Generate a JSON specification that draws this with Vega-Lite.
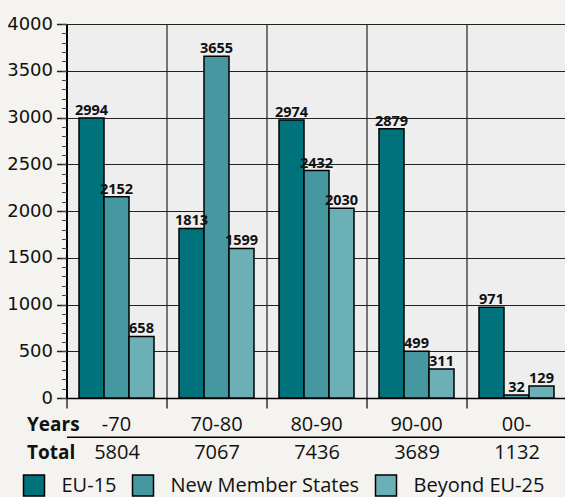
{
  "$schema": "https://vega.github.io/schema/vega-lite/v6.json",
  "width": 500,
  "height": 374,
  "autosize": {"type": "none"},
  "padding": {"left": 66.5, "top": 24, "right": 0, "bottom": 99},
  "background": "#f4f3ef",
  "config": {
    "view": {"fill": "#eeeeee", "stroke": null}
  },
  "data": {
    "values": [
      {"period": "-70", "region": "EU-15", "value": 2994, "total": "5804"},
      {"period": "-70", "region": "New Member States", "value": 2152, "total": "5804"},
      {"period": "-70", "region": "Beyond EU-25", "value": 658, "total": "5804"},
      {"period": "70-80", "region": "EU-15", "value": 1813, "total": "7067"},
      {"period": "70-80", "region": "New Member States", "value": 3655, "total": "7067"},
      {"period": "70-80", "region": "Beyond EU-25", "value": 1599, "total": "7067"},
      {"period": "80-90", "region": "EU-15", "value": 2974, "total": "7436"},
      {"period": "80-90", "region": "New Member States", "value": 2432, "total": "7436"},
      {"period": "80-90", "region": "Beyond EU-25", "value": 2030, "total": "7436"},
      {"period": "90-00", "region": "EU-15", "value": 2879, "total": "3689"},
      {"period": "90-00", "region": "New Member States", "value": 499, "total": "3689"},
      {"period": "90-00", "region": "Beyond EU-25", "value": 311, "total": "3689"},
      {"period": "00-", "region": "EU-15", "value": 971, "total": "1132"},
      {"period": "00-", "region": "New Member States", "value": 32, "total": "1132"},
      {"period": "00-", "region": "Beyond EU-25", "value": 129, "total": "1132"}
    ]
  },
  "resolve": {
    "scale": {"x": "independent"},
    "axis": {"x": "independent", "y": "independent"}
  },
  "layer": [
    {
      "mark": {"type": "bar", "stroke": "black", "strokeWidth": 1.5},
      "encoding": {
        "x": {
          "field": "period", "type": "nominal", "sort": null,
          "scale": {"paddingInner": 0, "paddingOuter": 0},
          "axis": {
            "orient": "bottom", "bandPosition": 0, "grid": true,
            "gridColor": "#222", "gridWidth": 1.2, "gridOpacity": 1,
            "domainColor": "black", "domainWidth": 1.5,
            "tickColor": "#333", "tickSize": 10, "tickWidth": 1.5,
            "labelAngle": 0, "labelFont": "Open Sans", "labelFontSize": 20,
            "labelColor": "#111", "labelBaseline": "alphabetic", "labelPadding": 22,
            "title": "Years", "titleFont": "Open Sans", "titleFontSize": 19,
            "titleFontWeight": "bold", "titleAlign": "left", "titleBaseline": "alphabetic",
            "titleX": -40, "titleY": 32.7, "titleAngle": 0, "titleColor": "#111"
          }
        },
        "xOffset": {
          "field": "region", "type": "nominal",
          "sort": ["EU-15", "New Member States", "Beyond EU-25"],
          "scale": {"paddingInner": 0, "paddingOuter": 0.5}
        },
        "y": {
          "field": "value", "type": "quantitative",
          "scale": {"domain": [0, 4000], "nice": false},
          "axis": {
            "values": [0, 500, 1000, 1500, 2000, 2500, 3000, 3500, 4000],
            "format": "d",
            "grid": true, "gridColor": "#222", "gridWidth": 1.2, "gridOpacity": 1,
            "domainColor": "black", "domainWidth": 2,
            "tickSize": 10, "tickColor": "#222", "tickWidth": 1.5,
            "labelFont": "DejaVu Sans", "labelFontSize": 18, "labelColor": "#111",
            "labelPadding": 4, "title": null
          }
        },
        "color": {
          "field": "region", "type": "nominal",
          "sort": ["EU-15", "New Member States", "Beyond EU-25"],
          "scale": {
            "domain": ["EU-15", "New Member States", "Beyond EU-25"],
            "range": ["#00727c", "#4598a0", "#6cb0b7"]
          },
          "legend": {
            "orient": "none", "legendX": -44, "legendY": 450,
            "direction": "horizontal", "title": null,
            "symbolType": "square", "symbolSize": 441,
            "symbolStrokeColor": "black", "symbolStrokeWidth": 1.5, "symbolOpacity": 1,
            "labelFont": "Open Sans", "labelFontSize": 20, "labelColor": "#111",
            "labelOffset": 16, "columnPadding": 13, "padding": 0, "labelLimit": 400
          }
        }
      }
    },
    {
      "mark": {"type": "text", "font": "Open Sans", "fontWeight": "bold", "fontSize": 14.5, "baseline": "alphabetic", "dy": -3, "color": "#111"},
      "encoding": {
        "x": {
          "field": "period", "type": "nominal", "sort": null,
          "scale": {"paddingInner": 0, "paddingOuter": 0},
          "axis": null
        },
        "xOffset": {
          "field": "region", "type": "nominal",
          "sort": ["EU-15", "New Member States", "Beyond EU-25"],
          "scale": {"paddingInner": 0, "paddingOuter": 0.5}
        },
        "y": {
          "field": "value", "type": "quantitative",
          "scale": {"domain": [0, 4000], "nice": false},
          "axis": null
        },
        "text": {"field": "value", "type": "quantitative", "format": "d"}
      }
    },
    {
      "mark": {"type": "point", "opacity": 0},
      "encoding": {
        "x": {
          "field": "total", "type": "nominal", "sort": null,
          "scale": {"paddingInner": 0, "paddingOuter": 0},
          "axis": {
            "orient": "bottom", "offset": 38.7, "ticks": false, "tickSize": 0, "grid": false,
            "domainColor": "black", "domainWidth": 1.5,
            "labelAngle": 0, "labelFont": "Open Sans", "labelFontSize": 20,
            "labelColor": "#111", "labelBaseline": "alphabetic", "labelPadding": 21.3,
            "title": "Total", "titleFont": "Open Sans", "titleFontSize": 19,
            "titleFontWeight": "bold", "titleAlign": "left", "titleBaseline": "alphabetic",
            "titleX": -40, "titleY": 21.3, "titleAngle": 0, "titleColor": "#111"
          }
        },
        "y": {
          "field": "value", "type": "quantitative",
          "scale": {"domain": [0, 4000], "nice": false},
          "axis": {
            "orient": "left", "tickCount": 40, "labels": false, "domain": false,
            "grid": false, "tickSize": 5, "tickColor": "#444", "tickWidth": 1, "title": null
          }
        }
      }
    }
  ]
}
